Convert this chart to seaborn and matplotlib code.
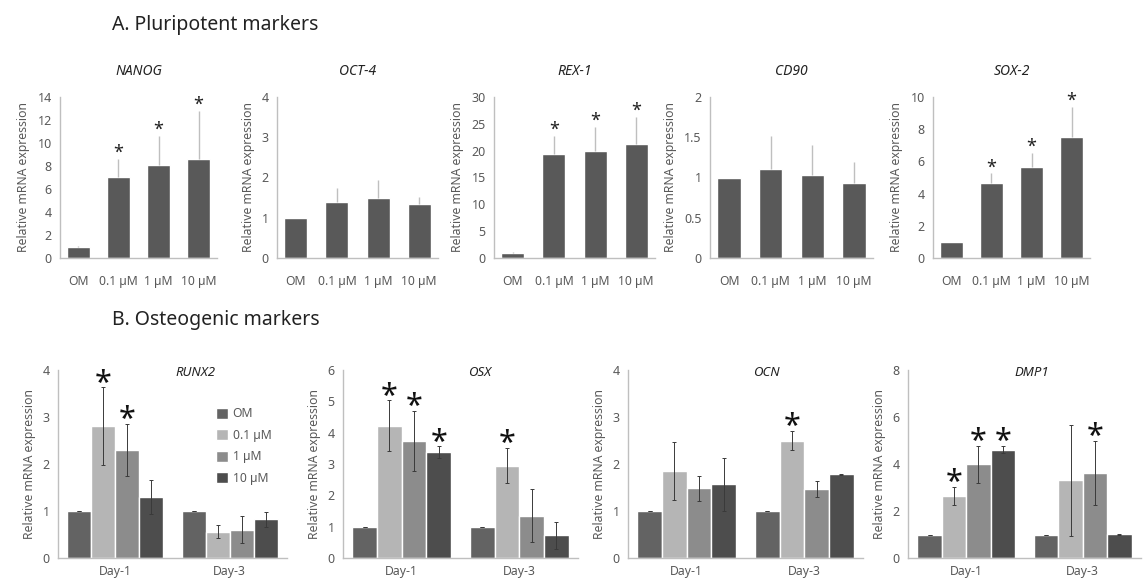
import numpy as np
import pandas as pd
import matplotlib
matplotlib.use("Agg")
import matplotlib.pyplot as plt
import seaborn as sns

# --- Data ---
conditions = ["OM", "0.1 µM", "1 µM", "10 µM"]
days = ["Day-1", "Day-3"]

# A. Pluripotent markers: mean and upper SD per condition
nanog_mean = [1.0, 7.05, 8.05, 8.6]
nanog_err = [0.05, 1.55, 2.55, 4.2]
nanog_star = [0, 1, 1, 1]

oct4_mean = [1.0, 1.4, 1.5, 1.35]
oct4_err = [0.0, 0.35, 0.43, 0.17]
oct4_star = [0, 0, 0, 0]

rex1_mean = [1.0, 19.3, 20.0, 21.3]
rex1_err = [0.1, 3.4, 4.4, 5.0]
rex1_star = [0, 1, 1, 1]

cd90_mean = [1.0, 1.1, 1.03, 0.93]
cd90_err = [0.0, 0.42, 0.37, 0.26]
cd90_star = [0, 0, 0, 0]

sox2_mean = [1.0, 4.65, 5.65, 7.5]
sox2_err = [0.0, 0.6, 0.85, 1.85]
sox2_star = [0, 1, 1, 1]

# B. Osteogenic markers: rows = day, columns = condition
runx2_mean = [[1.0, 2.8, 2.3, 1.3], [1.0, 0.56, 0.6, 0.82]]
runx2_err = [[0.0, 0.83, 0.55, 0.37], [0.0, 0.14, 0.29, 0.15]]
runx2_star = [[0, 1, 1, 0], [0, 0, 0, 0]]

osx_mean = [[1.0, 4.22, 3.73, 3.38], [1.0, 2.95, 1.35, 0.73]]
osx_err = [[0.0, 0.81, 0.95, 0.18], [0.0, 0.57, 0.85, 0.43]]
osx_star = [[0, 1, 1, 1], [0, 1, 0, 0]]

ocn_mean = [[1.0, 1.85, 1.48, 1.57], [1.0, 2.5, 1.47, 1.78]]
ocn_err = [[0.0, 0.62, 0.26, 0.56], [0.0, 0.21, 0.17, 0.01]]
ocn_star = [[0, 0, 0, 0], [0, 1, 0, 0]]

dmp1_mean = [[1.0, 2.65, 3.98, 4.6], [1.0, 3.3, 3.62, 1.02]]
dmp1_err = [[0.0, 0.38, 0.78, 0.15], [0.0, 2.35, 1.38, 0.02]]
dmp1_star = [[0, 1, 1, 1], [0, 0, 1, 0]]

# --- Style ---
sns.set_theme(style="white")
plt.rcParams["font.family"] = ["Noto Sans", "DejaVu Sans"]

TEXT = "#595959"
SPINE = "#bfbfbf"
TOP_BAR = "#595959"
bottom_colors = ["#636363", "#b5b5b5", "#8c8c8c", "#4d4d4d"]

W, H = 1143, 587
fig = plt.figure(figsize=(W / 100, H / 100), dpi=100)


def rect(x0, x1, y0, y1):
    return [x0 / W, 1 - y1 / H, (x1 - x0) / W, (y1 - y0) / H]


def style_axes(ax, ymax, step):
    ax.set_ylim(0, ymax)
    ax.set_yticks(np.arange(0, ymax + step / 2, step))
    ax.yaxis.set_major_formatter(matplotlib.ticker.FuncFormatter(lambda v, p: f"{v:g}"))
    for s in ["top", "right"]:
        ax.spines[s].set_visible(False)
    for s in ["left", "bottom"]:
        ax.spines[s].set_color(SPINE)
        ax.spines[s].set_linewidth(1)
    ax.tick_params(axis="y", length=3, color=SPINE, labelcolor=TEXT, labelsize=9, pad=3)
    ax.set_ylabel("Relative mRNA expression", color=TEXT, fontsize=8.8, labelpad=5)
    ax.set_xlabel("")


def top_panel(x0, x1, title, means, errs, stars, ymax, step):
    ax = fig.add_axes(rect(x0, x1, 97, 258))
    df = pd.DataFrame({"condition": conditions, "value": means})
    sns.barplot(data=df, x="condition", y="value", color=TOP_BAR, saturation=1,
                width=0.56, errorbar=None, ax=ax)
    xs = [b.get_x() + b.get_width() / 2 for b in ax.containers[0]]
    ax.errorbar(xs, means, yerr=[np.zeros(len(errs)), errs], fmt="none",
                ecolor=SPINE, elinewidth=1, capsize=0)
    for x, m, e, s in zip(xs, means, errs, stars):
        if s:
            ax.annotate("*", (x, m + e), xytext=(0, -2), textcoords="offset points",
                        ha="center", va="bottom", fontsize=13, color="#222222")
    style_axes(ax, ymax, step)
    ax.tick_params(axis="x", length=0, labelcolor=TEXT, labelsize=8.8, pad=12)
    ax.set_title(title, style="italic", fontsize=10, color="#222222", pad=16)
    return ax


def bottom_panel(x0, x1, title, means, errs, stars, ymax, step, tx, legend=False):
    ax = fig.add_axes(rect(x0, x1, 370, 558))
    rows = []
    for d, day in enumerate(days):
        for c, cond in enumerate(conditions):
            rows.append({"day": day, "condition": cond, "value": means[d][c]})
    df = pd.DataFrame(rows)
    sns.barplot(data=df, x="day", y="value", hue="condition", hue_order=conditions,
                palette=bottom_colors, saturation=1, width=0.84, gap=0,
                errorbar=None, legend=legend, ax=ax)
    bar_groups = list(ax.containers)
    for c, bars in enumerate(bar_groups):
        for d, b in enumerate(bars):
            x = b.get_x() + b.get_width() / 2
            m, e = means[d][c], errs[d][c]
            ax.errorbar(x, m, yerr=e, fmt="none", ecolor="#3a3a3a",
                        elinewidth=0.7, capsize=1.5, capthick=0.7)
            if stars[d][c]:
                ax.annotate("*", (x, m + e), xytext=(0, -8), textcoords="offset points",
                            ha="center", va="bottom", fontsize=22, fontweight="bold",
                            color="#111111")
    style_axes(ax, ymax, step)
    ax.set_xticks([-0.5, 0.5, 1.5], minor=True)
    ax.tick_params(axis="x", which="major", length=0, labelcolor=TEXT, labelsize=8.8, pad=5)
    ax.tick_params(axis="x", which="minor", length=4, color=SPINE, direction="out")
    ax.set_xlim(-0.5, 1.5)
    ax.text(tx, 0.985, title, transform=ax.transAxes, style="italic", fontsize=9.5,
            color="#222222", ha="center", va="center")
    if legend:
        sns.move_legend(ax, "upper left", bbox_to_anchor=(0.64, 0.86), frameon=False,
                        title=None, fontsize=8.8, labelcolor=TEXT, handlelength=1.0,
                        handleheight=1.0, handletextpad=0.4, labelspacing=0.7)
    return ax


top_panel(60, 217, "NANOG", nanog_mean, nanog_err, nanog_star, 14, 2)
top_panel(277, 438, "OCT-4", oct4_mean, oct4_err, oct4_star, 4, 1)
top_panel(494, 655, "REX-1", rex1_mean, rex1_err, rex1_star, 30, 5)
top_panel(710, 873, "CD90", cd90_mean, cd90_err, cd90_star, 2, 0.5)
top_panel(933, 1090, "SOX-2", sox2_mean, sox2_err, sox2_star, 10, 2)

bottom_panel(58, 287, "RUNX2", runx2_mean, runx2_err, runx2_star, 4, 1, 0.60, legend=True)
bottom_panel(343, 578, "OSX", osx_mean, osx_err, osx_star, 6, 1, 0.58)
bottom_panel(628, 863, "OCN", ocn_mean, ocn_err, ocn_star, 4, 1, 0.59)
bottom_panel(908, 1141, "DMP1", dmp1_mean, dmp1_err, dmp1_star, 8, 2, 0.53)

fig.text(112 / W, 1 - 25 / H, "A. Pluripotent markers", fontsize=14, color="#222222", va="center")
fig.text(112 / W, 1 - 320 / H, "B. Osteogenic markers", fontsize=14, color="#222222", va="center")

fig.savefig("out.png", dpi=100)
